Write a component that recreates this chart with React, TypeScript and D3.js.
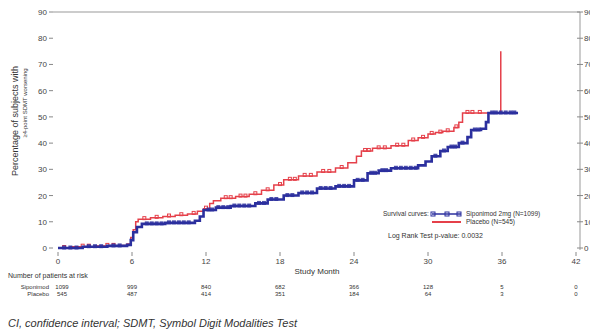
import React from "react";
import * as d3 from "d3";

const xTicks = [0, 6, 12, 18, 24, 30, 36, 42];
const yTicks = [0, 10, 20, 30, 40, 50, 60, 70, 80, 90];

const siponimodMonths = [0, 2, 4, 5.6, 5.9, 6.1, 6.4, 6.8, 8.7, 11.1, 11.5, 11.8, 12.8, 14, 16, 17, 18.3, 19.5, 21, 22.5, 24, 25.1, 26, 27, 29.2, 29.8, 30.3, 31, 31.6, 32.5, 33.2, 33.5, 34.3, 34.7, 34.9, 37.3];
const siponimodPct = [0, 0.5, 0.8, 1.2, 3, 6, 8, 9.2, 9.6, 10.4, 12, 14.5, 15.4, 16, 17, 18.5, 20, 21, 22.7, 23.5, 25.8, 28.5, 29.5, 30.4, 31.5, 33, 35, 37, 38.5, 40, 42.3, 45, 45.5, 48, 51.5, 51.5];
const siponimodCensor = [0.5, 1, 1.5, 2.5, 3, 3.5, 4.5, 5, 7.2, 7.6, 8, 8.4, 9, 9.4, 9.8, 10.2, 10.6, 12.2, 12.5, 13, 13.4, 13.8, 14.3, 14.7, 15.1, 15.5, 16.3, 16.7, 17.3, 17.7, 18.6, 19, 19.8, 20.2, 20.6, 21.3, 21.7, 22.1, 22.8, 23.2, 23.6, 24.3, 24.7, 25.4, 25.7, 26.3, 26.6, 27.4, 27.8, 28.2, 28.6, 29, 30.6, 31.3, 31.9, 32.2, 32.8, 33.8, 34.1, 35.2, 35.5, 35.9, 36.3, 36.7, 37];

const placeboMonths = [0, 1, 3, 5, 5.6, 5.9, 6.1, 6.3, 6.5, 7.5, 8.5, 9.5, 10.5, 11.3, 11.8, 12.3, 12.6, 13.2, 14.4, 15.5, 16.5, 17.5, 18.3, 19.5, 21, 22.5, 23.5, 24.2, 24.6, 25.5, 27, 28.4, 29.2, 30, 30.6, 31.2, 32.1, 32.5, 32.8, 35.9, 35.9];
const placeboPct = [0, 0.5, 0.8, 1, 1.5, 4, 7, 10, 11, 11.5, 12, 12.5, 13, 14, 15, 17, 18, 19, 19.6, 20.5, 22, 24, 26, 27.5, 29, 30.5, 32.5, 35, 37, 38, 39, 41, 42, 43.5, 44, 44.5, 46, 48, 51.5, 51.5, 75];
const placeboCensor = [0.5, 2, 2.5, 4, 4.5, 7, 8, 9, 10, 11, 12, 13.6, 14, 14.8, 15.2, 16, 17, 18, 18.8, 19.2, 20, 20.5, 21.5, 22, 23, 24.9, 25.2, 26, 26.5, 27.5, 28, 28.8, 29.6, 30.3, 31, 31.6, 32.3, 33.2, 33.6, 34.2];

const atRiskSiponimod = ["1099", "999", "840", "682", "366", "128", "5", "0"];
const atRiskPlacebo = ["545", "487", "414", "351", "184", "64", "3", "0"];

const BLUE = "#2b2f9e";
const RED = "#e5404a";
const FONT = "Liberation Sans, Arial, sans-serif";

function stepValue(months: number[], pct: number[], t: number) {
  let v = pct[0];
  for (let i = 0; i < months.length; i++) {
    if (months[i] <= t) v = pct[i];
  }
  return v;
}

export default function App() {
  const x = d3.scaleLinear().domain([0, 42]).range([58, 576]);
  const y = d3.scaleLinear().domain([0, 90]).range([248, 12]);
  const line = d3
    .line<[number, number]>()
    .x((d) => x(d[0]))
    .y((d) => y(d[1]))
    .curve(d3.curveStepAfter);

  const sip: [number, number][] = siponimodMonths.map((m, i) => [m, siponimodPct[i]]);
  const pla: [number, number][] = placeboMonths.map((m, i) => [m, placeboPct[i]]);
  const sipMarks: [number, number][] = siponimodCensor.map((t) => [t, stepValue(siponimodMonths, siponimodPct, t)]);
  const plaMarks: [number, number][] = placeboCensor.map((t) => [t, stepValue(placeboMonths, placeboPct, t)]);

  return (
    <svg
      width={590}
      height={335}
      style={{ position: "absolute", left: 0, top: 0, background: "#fff" }}
      fontFamily={FONT}
    >
      <line x1={53} x2={580} y1={12} y2={12} stroke="#999" strokeWidth={1} />
      <line x1={580} x2={580} y1={12} y2={250} stroke="#999" strokeWidth={1} />
      {yTicks.map((t) => (
        <g key={"r" + t}>
          <line x1={577} x2={583} y1={y(t)} y2={y(t)} stroke="#888" />
          <text x={584} y={y(t) + 3} fontSize={8} fill="#444">
            {t}
          </text>
        </g>
      ))}
      {yTicks.map((t) => (
        <g key={"l" + t}>
          <line x1={49} x2={53} y1={y(t)} y2={y(t)} stroke="#888" />
          <text x={47} y={y(t) + 3} fontSize={8} fill="#444" textAnchor="end">
            {t}
          </text>
        </g>
      ))}
      {xTicks.map((t) => (
        <g key={"x" + t}>
          <line x1={x(t)} x2={x(t)} y1={252} y2={256} stroke="#888" />
          <text x={x(t)} y={264} fontSize={8} fill="#444" textAnchor="middle">
            {t}
          </text>
        </g>
      ))}
      <text x={x(21)} y={274} fontSize={8} fill="#333" textAnchor="middle">
        Study Month
      </text>

      <text transform={`translate(18,121) rotate(-90)`} fontSize={9} fill="#333" textAnchor="middle">
        Percentage of subjects with
      </text>
      <text transform={`translate(27,103) rotate(-90)`} fontSize={6} fill="#333" textAnchor="middle">
        ≥4-point SDMT worsening
      </text>

      <path d={line(pla) || ""} fill="none" stroke={RED} strokeWidth={1.5} />
      {plaMarks.map((d, i) => (
        <rect
          key={"pm" + i}
          x={x(d[0]) - 1.5}
          y={y(d[1]) - 2.5}
          width={3}
          height={3}
          fill="none"
          stroke={RED}
          strokeWidth={1}
        />
      ))}
      <path d={line(sip) || ""} fill="none" stroke={BLUE} strokeWidth={2.6} />
      {sipMarks.map((d, i) => (
        <rect key={"sm" + i} x={x(d[0]) - 2} y={y(d[1]) - 2.5} width={4} height={4} fill={BLUE} opacity={0.85} />
      ))}

      <text x={383} y={216} fontSize={6.5} fill="#333">
        Survival curves:
      </text>
      <line x1={432} x2={461} y1={214} y2={214} stroke={BLUE} strokeWidth={1.5} />
      {[433, 447, 459].map((px) => (
        <rect key={"lb" + px} x={px - 2} y={212} width={4} height={4} fill="none" stroke={BLUE} strokeWidth={1} />
      ))}
      <text x={466} y={216} fontSize={6.5} fill="#333">
        Siponimod 2mg (N=1099)
      </text>
      <line x1={432} x2={461} y1={222} y2={222} stroke={RED} strokeWidth={2} />
      <text x={466} y={224} fontSize={6.5} fill="#333">
        Placebo (N=545)
      </text>
      <text x={388} y={238} fontSize={7} fill="#333">
        Log Rank Test p-value: 0.0032
      </text>

      <text x={8} y={278} fontSize={7} fill="#333">
        Number of patients at risk
      </text>
      <text x={49} y={289} fontSize={6} fill="#333" textAnchor="end">
        Siponimod
      </text>
      <text x={49} y={296} fontSize={6} fill="#333" textAnchor="end">
        Placebo
      </text>
      {xTicks.map((t, i) => (
        <g key={"ar" + t}>
          <text x={x(t) + (i === 0 ? 4 : 0)} y={289} fontSize={6} fill="#333" textAnchor="middle">
            {atRiskSiponimod[i]}
          </text>
          <text x={x(t) + (i === 0 ? 4 : 0)} y={296} fontSize={6} fill="#333" textAnchor="middle">
            {atRiskPlacebo[i]}
          </text>
        </g>
      ))}

      <text x={8} y={327} fontSize={11} fontStyle="italic" fill="#333">
        CI, confidence interval; SDMT, Symbol Digit Modalities Test
      </text>
    </svg>
  );
}
